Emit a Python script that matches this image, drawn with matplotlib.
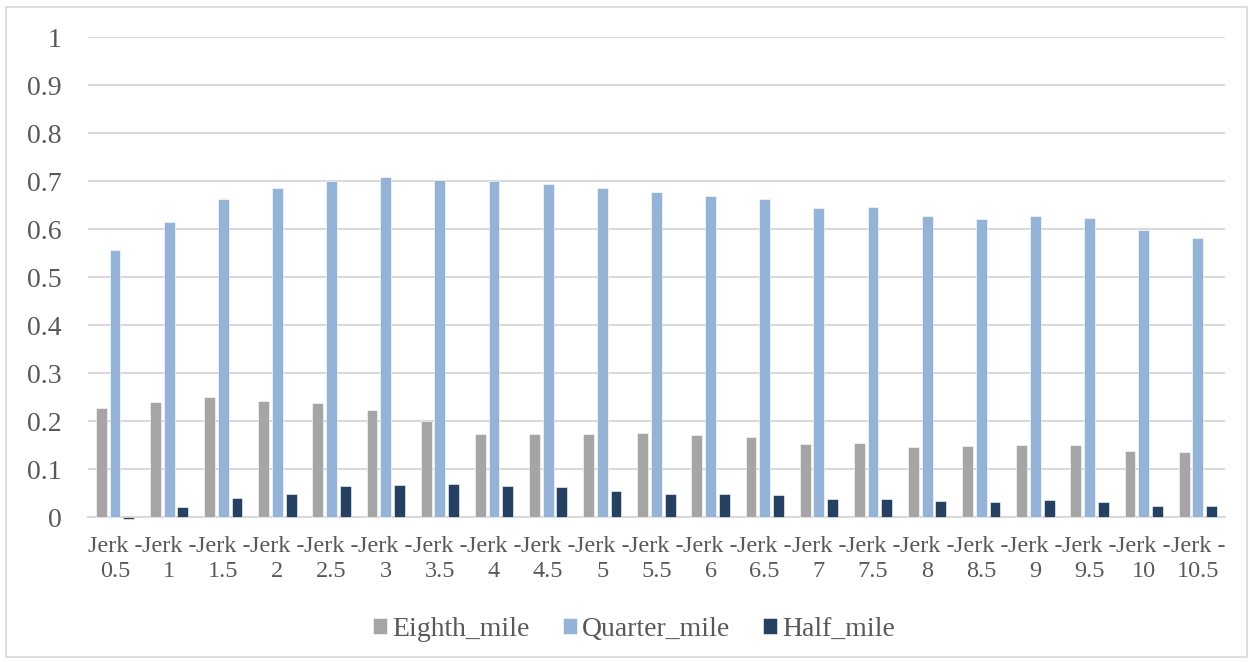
import matplotlib.pyplot as plt
import numpy as np
from matplotlib.patches import Rectangle
from matplotlib.ticker import FuncFormatter

# Values
categories = ["0.5", "1", "1.5", "2", "2.5", "3", "3.5", "4", "4.5", "5", "5.5",
              "6", "6.5", "7", "7.5", "8", "8.5", "9", "9.5", "10", "10.5"]
eighth_mile = [0.228, 0.240, 0.250, 0.242, 0.238, 0.223, 0.200, 0.172, 0.172, 0.172, 0.176,
               0.170, 0.167, 0.152, 0.154, 0.146, 0.148, 0.150, 0.150, 0.137, 0.135]
quarter_mile = [0.556, 0.615, 0.663, 0.685, 0.700, 0.708, 0.702, 0.700, 0.694, 0.686, 0.678,
                0.669, 0.663, 0.644, 0.646, 0.627, 0.621, 0.628, 0.623, 0.598, 0.581]
half_mile = [-0.004, 0.021, 0.040, 0.047, 0.065, 0.067, 0.069, 0.064, 0.063, 0.054, 0.049,
             0.049, 0.045, 0.037, 0.037, 0.033, 0.031, 0.035, 0.031, 0.024, 0.023]
series_names = ["Eighth_mile", "Quarter_mile", "Half_mile"]
colors = ["#A5A5A5", "#95B3D7", "#254061"]

font = "Liberation Serif"
text_color = "#595959"
grid_color = "#D9D9D9"

fig = plt.figure(figsize=(12.53, 6.62), dpi=100)
ax = fig.add_axes([0.0702, 0.219, 0.9074, 0.725])

x = np.arange(len(categories))
width = 0.2
offsets = [-0.253, 0, 0.253]
for vals, name, col, off in zip([eighth_mile, quarter_mile, half_mile], series_names, colors, offsets):
    bars = ax.bar(x + off, vals, width, color=col, label=name, edgecolor="white", linewidth=0.4, zorder=3)
    for b in bars:
        b.set_clip_on(False)  # lets the small negative bar hang below the axis

ax.set_xlim(-0.5, len(categories) - 0.5)
ax.set_ylim(0, 1)
ax.set_yticks(np.arange(0, 1.01, 0.1))
ax.yaxis.set_major_formatter(FuncFormatter(lambda v, p: "%g" % round(v, 1)))
ax.grid(axis="y", color=grid_color, linewidth=1.5, zorder=0)
ax.set_axisbelow(True)

for s in ["top", "right", "left"]:
    ax.spines[s].set_visible(False)
ax.spines["bottom"].set_color(grid_color)
ax.spines["bottom"].set_linewidth(1.5)
ax.spines["bottom"].set_zorder(2)

ax.set_xticks(x)
ax.set_xticklabels(["Jerk -\n" + c for c in categories], fontfamily=font, fontsize=17.5,
                   color=text_color, linespacing=1.25)
ax.tick_params(axis="x", length=0, pad=14)
ax.tick_params(axis="y", length=0, pad=19, labelsize=20, labelcolor=text_color)
for lab in ax.get_yticklabels():
    lab.set_fontfamily(font)

leg = fig.legend(loc="center", bbox_to_anchor=(0.506, 0.049), ncol=3, frameon=False,
                 prop={"family": font, "size": 20}, handlelength=0.5, handleheight=0.5,
                 handletextpad=0.18, columnspacing=1.2)
for t in leg.get_texts():
    t.set_color(text_color)

# chart area border
fig.patches.append(Rectangle((0.005, 0.008), 0.99, 0.982, transform=fig.transFigure,
                             fill=False, edgecolor=grid_color, linewidth=1.2))

plt.savefig("out.png", dpi=100)
